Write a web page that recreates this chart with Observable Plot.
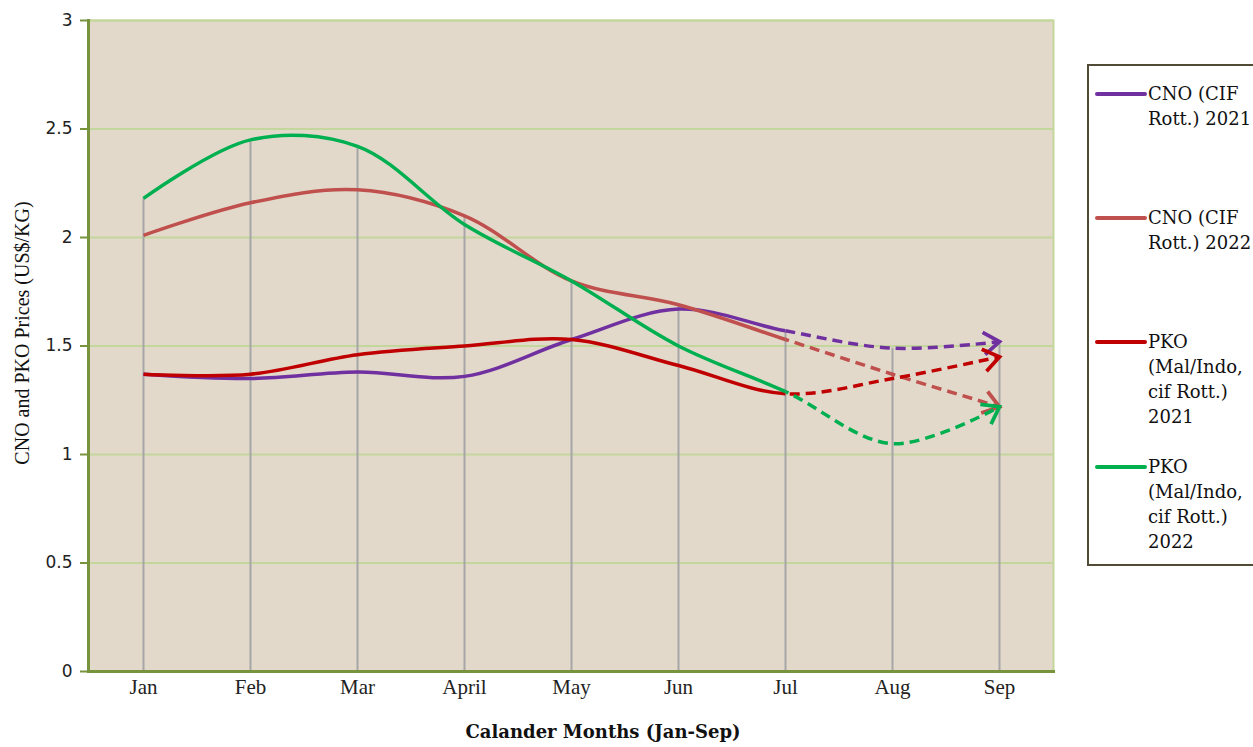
<!DOCTYPE html>
<html><head><meta charset="utf-8">
<script src="https://cdn.jsdelivr.net/npm/d3@7"></script>
<script src="https://cdn.jsdelivr.net/npm/@observablehq/plot@0.6"></script>
<style>
body{margin:0;background:#fff;width:1253px;height:747px;overflow:hidden;position:relative}
#chart{position:absolute;left:0;top:0}
#legend{position:absolute;left:1087px;top:64px;width:190px;height:502px;border:2px solid #4F4B36;box-sizing:border-box;font-family:"DejaVu Serif";font-size:18px;color:#111;background:#fff}
.sw{position:absolute;left:6px;width:52px;height:4px;border-radius:2px}
.lbl{position:absolute;left:59px;line-height:25px;white-space:nowrap}
</style></head><body>
<div id="chart"></div><div id="legend"></div>
<script>
const months = ["Jan","Feb","Mar","April","May","Jun","Jul","Aug","Sep"];
const seriesNames = ["CNO (CIF Rott.) 2021","CNO (CIF Rott.) 2022","PKO (Mal/Indo, cif Rott.) 2021","PKO (Mal/Indo, cif Rott.) 2022"];
const legendLines = [["CNO (CIF","Rott.) 2021"],["CNO (CIF","Rott.) 2022"],["PKO","(Mal/Indo,","cif Rott.)","2021"],["PKO","(Mal/Indo,","cif Rott.)","2022"]];
const seriesColors = ["#7030A0","#C0504D","#C00000","#00B050"];
const cno2021 = [1.37,1.35,1.38,1.36,1.53,1.67,1.57,1.49,1.52];
const cno2022 = [2.01,2.16,2.22,2.10,1.80,1.69,1.53,1.37,1.22];
const pko2021 = [1.37,1.37,1.46,1.50,1.53,1.41,1.28,1.35,1.45];
const pko2022 = [2.18,2.45,2.42,2.06,1.80,1.50,1.29,1.05,1.22];
const yTicks = [0,0.5,1,1.5,2,2.5,3];
const yTickLabels = ["0","0.5","1","1.5","2","2.5","3"];
const forecastStart = "Jul";
const xTitle = "Calander Months (Jan-Sep)";
const yTitle = "CNO and PKO Prices (US$/KG)";

const allSeries = [cno2021, cno2022, pko2021, pko2022];
const rows = [];
allSeries.forEach((vals, s) => vals.forEach((v, i) => rows.push({month: months[i], series: seriesNames[s], value: v})));
const drops = months.map((m, i) => ({month: m, top: d3.max(allSeries, a => a[i])}));

const plot = Plot.plot({
  width: 1253, height: 747,
  marginLeft: 88, marginRight: 200, marginTop: 20, marginBottom: 76,
  style: {background: "transparent", fontFamily: "Liberation Serif", overflow: "visible"},
  x: {type: "point", domain: months, padding: 0.5},
  y: {domain: [0, 3]},
  color: {domain: seriesNames, range: seriesColors},
  marks: [
    Plot.frame({fill: "#E2D9CB", stroke: "#C3D69B", strokeWidth: 2}),
    Plot.ruleY(yTicks.filter(d => d > 0), {stroke: "#C3D69B", strokeWidth: 2}),
    Plot.ruleX(drops, {x: "month", y1: 0, y2: "top", stroke: "#A6A6A6", strokeWidth: 2}),
    Plot.line(rows, {x: "month", y: "value", z: "series", stroke: "series", strokeWidth: 3.5, curve: "catmull-rom", strokeLinecap: "butt"}),
    Plot.line(rows, {x: "month", y: "value", z: "series", stroke: "series", strokeWidth: 3.5, curve: "catmull-rom", strokeDasharray: "10,6", strokeLinecap: "butt", markerEnd: "arrow"}),
    Plot.axisY({ticks: yTicks, tickFormat: d => yTickLabels[yTicks.indexOf(d)], tickSize: 8, tickPadding: 8, stroke: "#77933C", strokeWidth: 2, fontSize: 17, fontFamily: "DejaVu Sans", fill: "#222", label: null}),
    Plot.axisX({tickSize: 0, tickPadding: 8, fontSize: 21, fontFamily: "Liberation Serif", fill: "#222", label: null}),
    Plot.frame({anchor: "left", stroke: "#77933C", strokeWidth: 3}),
    Plot.frame({anchor: "bottom", stroke: "#77933C", strokeWidth: 3}),
    Plot.text([yTitle], {frameAnchor: "left", textAnchor: "middle", rotate: -90, dx: -66, dy: -13, fontSize: 20, fontFamily: "Liberation Serif", fill: "#111"}),
    Plot.text([xTitle], {frameAnchor: "bottom", textAnchor: "middle", dx: 32, dy: 66, fontSize: 18, fontWeight: "bold", fontFamily: "DejaVu Serif", fill: "#111"})
  ]
});

// split each series into solid (actual) and dashed (forecast) parts
const ns = "http://www.w3.org/2000/svg";
const xCut = plot.scale("x").apply(forecastStart);
const defs = document.createElementNS(ns, "defs");
function mkClip(id, x0, x1) {
  const cp = document.createElementNS(ns, "clipPath"); cp.setAttribute("id", id);
  const r = document.createElementNS(ns, "rect");
  r.setAttribute("x", x0); r.setAttribute("y", 0); r.setAttribute("width", x1 - x0); r.setAttribute("height", 747);
  cp.appendChild(r); defs.appendChild(cp);
}
mkClip("solidClip", 0, xCut);
mkClip("dashClip", xCut, 1253);
plot.insertBefore(defs, plot.firstChild);
const lineGroups = plot.querySelectorAll('g[aria-label="line"]');
lineGroups[0].setAttribute("clip-path", "url(#solidClip)");
lineGroups[1].setAttribute("clip-path", "url(#dashClip)");
lineGroups[1].querySelectorAll("marker").forEach(m => {
  m.setAttribute("stroke-dasharray", "none");
  m.setAttribute("markerWidth", 10.7);
  m.setAttribute("markerHeight", 10.7);
  m.setAttribute("stroke-width", 1);
  m.setAttribute("stroke-linecap", "butt");
  m.setAttribute("stroke-linejoin", "miter");
  const p = m.querySelector("path");
  if (p) p.setAttribute("d", "M-4.2,-3L0,0L-4.2,3");
});
document.getElementById("chart").appendChild(plot);

// legend
const legend = document.getElementById("legend");
const starts = [15, 139, 263, 388];
legendLines.forEach((lines, s) => {
  const sw = document.createElement("div"); sw.className = "sw";
  sw.style.top = (starts[s] + 11) + "px"; sw.style.background = seriesColors[s];
  legend.appendChild(sw);
  const lb = document.createElement("div"); lb.className = "lbl";
  lb.style.top = starts[s] + "px"; lb.innerHTML = lines.join("<br>");
  legend.appendChild(lb);
});
</script>
</body></html>
